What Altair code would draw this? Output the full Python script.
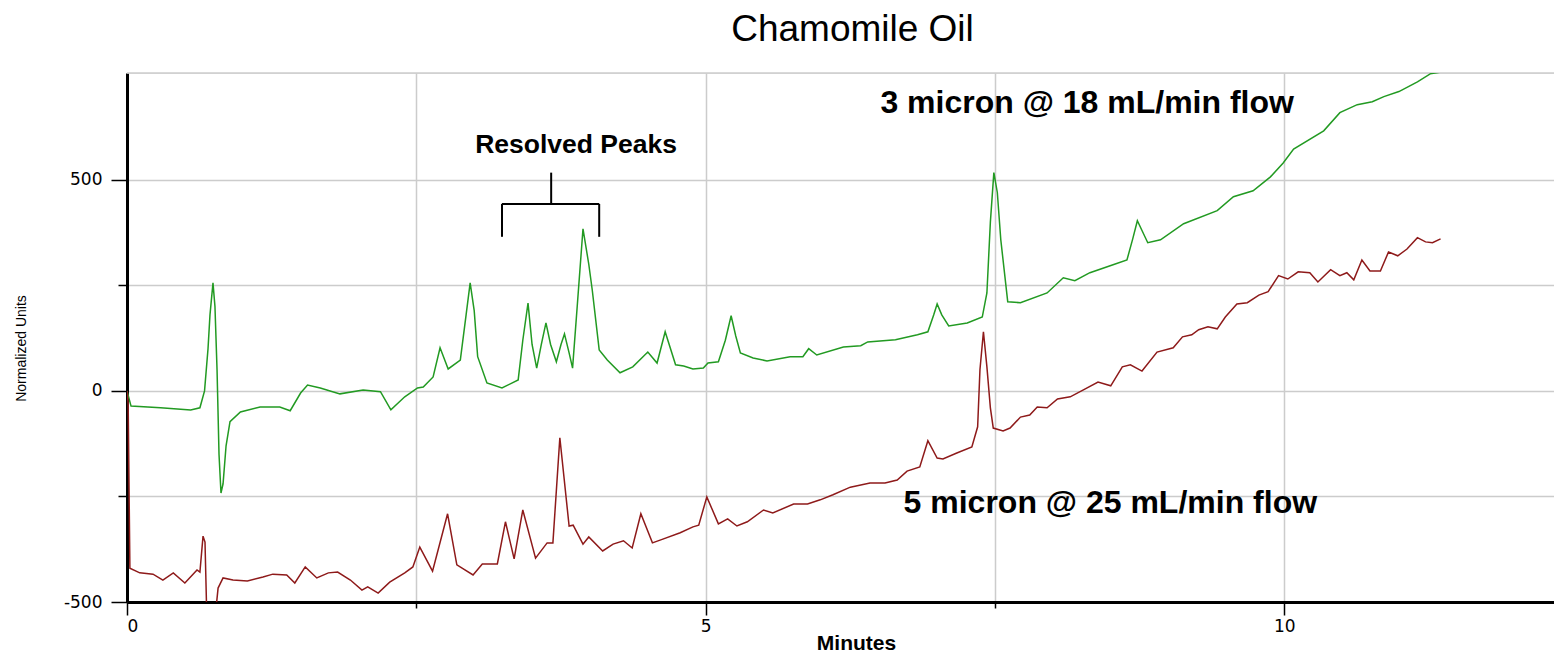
import altair as alt
import pandas as pd

# ---- data (minutes, normalized units) ----
green_t = [0.00, 0.035, 0.29, 0.55, 0.63, 0.67, 0.70, 0.717, 0.743, 0.76, 0.778, 0.795, 0.812, 0.83, 0.856, 0.89,
           0.98, 1.15, 1.32, 1.41, 1.50, 1.56, 1.67, 1.84, 2.04, 2.19, 2.28, 2.40, 2.51, 2.56, 2.645, 2.705,
           2.775, 2.88, 2.93, 2.965, 3.00, 3.03, 3.11, 3.24, 3.38, 3.42, 3.465, 3.50, 3.54, 3.58, 3.62, 3.66,
           3.71, 3.75, 3.78, 3.82, 3.85, 3.89, 3.94, 3.99, 4.02, 4.08, 4.15, 4.26, 4.37, 4.50, 4.58, 4.65,
           4.74, 4.81, 4.89, 4.98, 5.02, 5.11, 5.17, 5.22, 5.26, 5.30, 5.41, 5.53, 5.73, 5.84, 5.89, 5.96,
           6.19, 6.34, 6.40, 6.64, 6.83, 6.92, 6.97, 7.00, 7.04, 7.10, 7.26, 7.39, 7.43, 7.46, 7.49, 7.52,
           7.55, 7.61, 7.72, 7.95, 8.09, 8.19, 8.32, 8.52, 8.64, 8.69, 8.73, 8.77, 8.82, 8.93, 9.13, 9.42,
           9.56, 9.73, 9.88, 9.99, 10.08, 10.34, 10.48, 10.63, 10.76, 10.86, 10.99, 11.15, 11.26, 11.35]
green_v = [0, -36, -40, -45, -40, 0, 100, 180, 256, 200, 50, -150, -242, -220, -130, -73,
           -50, -38, -38, -47, -5, 14, 7, -7, 2, -2, -45, -14, 7, 9, 33, 102,
           52, 73, 180, 256, 190, 81, 19, 7, 26, 120, 208, 110, 54, 110, 161, 110,
           69, 110, 135, 90, 54, 200, 384, 300, 239, 97, 73, 43, 57, 92, 66, 140,
           62, 59, 52, 54, 66, 69, 120, 178, 130, 90, 78, 71, 81, 81, 100, 85,
           104, 107, 116, 121, 133, 140, 180, 206, 180, 154, 161, 175, 232, 400, 517, 470,
           358, 211, 209, 232, 268, 261, 280, 299, 310, 360, 403, 380, 351, 358, 396, 427,
           460, 474, 507, 540, 573, 616, 659, 678, 685, 697, 709, 732, 751, 755]

red_t = [0.00, 0.01, 0.025, 0.11, 0.225, 0.31, 0.40, 0.50, 0.605, 0.63, 0.657, 0.674, 0.69, 0.76, 0.787, 0.83,
         0.916, 1.04, 1.175, 1.26, 1.38, 1.45, 1.54, 1.64, 1.74, 1.82, 1.93, 2.03, 2.08, 2.17, 2.27, 2.40,
         2.47, 2.53, 2.64, 2.77, 2.85, 2.99, 3.07, 3.20, 3.27, 3.345, 3.42, 3.53, 3.63, 3.68, 3.74, 3.82,
         3.855, 3.94, 3.99, 4.11, 4.20, 4.29, 4.365, 4.44, 4.54, 4.63, 4.78, 4.89, 4.94, 5.01, 5.11, 5.19,
         5.27, 5.36, 5.50, 5.58, 5.76, 5.88, 5.99, 6.10, 6.25, 6.42, 6.55, 6.655, 6.74, 6.85, 6.92, 7.00,
         7.05, 7.17, 7.30, 7.35, 7.37, 7.40, 7.43, 7.46, 7.485, 7.57, 7.63, 7.72, 7.80, 7.865, 7.95, 8.04,
         8.15, 8.28, 8.39, 8.50, 8.60, 8.67, 8.77, 8.90, 9.04, 9.12, 9.20, 9.26, 9.34, 9.42, 9.49, 9.59,
         9.68, 9.78, 9.86, 9.95, 10.03, 10.12, 10.22, 10.29, 10.40, 10.48, 10.54, 10.60, 10.67, 10.74, 10.83, 10.90,
         10.98, 11.06, 11.15, 11.22, 11.28, 11.35]
red_v = [0, -30, -420, -431, -434, -448, -431, -455, -424, -429, -344, -358, -540, -540, -467, -443,
         -448, -450, -441, -434, -436, -455, -417, -443, -431, -429, -448, -472, -464, -479, -453, -431,
         -417, -370, -427, -291, -412, -436, -410, -410, -310, -398, -282, -396, -360, -360, -111, -320,
         -318, -363, -346, -379, -363, -355, -372, -291, -360, -351, -336, -322, -318, -251, -315, -303,
         -320, -310, -282, -289, -268, -268, -258, -246, -228, -218, -218, -211, -190, -180, -118, -159,
         -161, -147, -133, -85, 50, 140, 57, -40, -88, -95, -88, -62, -57, -38, -40, -19,
         -14, 5, 21, 12, 57, 62, 47, 92, 102, 128, 133, 145, 152, 147, 175, 206,
         209, 227, 235, 273, 265, 282, 280, 258, 287, 273, 280, 263, 310, 284, 284, 329,
         320, 336, 363, 353, 351, 360]

assert len(green_t) == len(green_v)
assert len(red_t) == len(red_v)

series_names = ["3 micron @ 18 mL/min flow", "5 micron @ 25 mL/min flow"]
series_colors = ["#229a22", "#8e1a1a"]

label_text = ["3 micron @ 18 mL/min flow", "5 micron @ 25 mL/min flow"]
label_x = [6.51, 6.71]
label_y = [682, -265]

peaks_text = ["Resolved Peaks"]
peaks_x = [3.88]
peaks_y = [583]

bracket_x = [3.24, 4.08, 3.24, 3.665]
bracket_x2 = [3.24, 4.08, 4.08, 3.665]
bracket_y = [365, 365, 443, 443]
bracket_y2 = [443, 443, 443, 517]

X_MAX = 12.33
Y_MIN, Y_MAX = -500, 753

df = pd.concat([
    pd.DataFrame({"t": green_t, "v": green_v, "s": series_names[0], "o": range(len(green_t))}),
    pd.DataFrame({"t": red_t, "v": red_v, "s": series_names[1], "o": range(len(red_t))}),
])

FONT = "Liberation Sans"

xscale = alt.Scale(domain=[0, X_MAX], nice=False, zero=False)
yscale = alt.Scale(domain=[Y_MIN, Y_MAX], nice=False, zero=False)

xaxis = alt.Axis(
    values=[0, 2.5, 5, 7.5, 10],
    labelExpr="datum.value % 5 === 0 ? toString(datum.value) : ''",
    domainColor="black", domainWidth=3,
    tickColor="black", tickWidth=1.5,
    tickSize={"condition": {"test": "datum.value % 5 === 0", "value": 13}, "value": 6},
    labelFont="DejaVu Sans", labelFontSize=17, labelColor="black", labelPadding=3,
    gridColor="#cccccc", gridWidth=1.5,
    title="Minutes", titleFont=FONT, titleFontSize=21, titleFontWeight="bold", titleColor="black",
    titleX=729, titleY=47, titleBaseline="alphabetic", titleAlign="center",
)
yaxis = alt.Axis(
    values=[-500, -250, 0, 250, 500],
    labelExpr="datum.value % 500 === 0 ? toString(datum.value) : ''",
    domainColor="black", domainWidth=3,
    tickColor="black", tickWidth=1.5,
    tickSize={"condition": {"test": "datum.value % 500 === 0", "value": 16}, "value": 9},
    labelFont="DejaVu Sans", labelFontSize=17, labelColor="black", labelPadding=9,
    gridColor="#cccccc", gridWidth=1.5,
    title="Normalized Units", titleFont=FONT, titleFontSize=14, titleFontWeight="normal", titleColor="black",
    titleX=-106, titleY=275, titleAngle=270, titleBaseline="middle", titleAlign="center",
)

lines = alt.Chart(df).mark_line(strokeWidth=1.5, clip=True, interpolate="linear").encode(
    x=alt.X("t:Q", scale=xscale, axis=xaxis),
    y=alt.Y("v:Q", scale=yscale, axis=yaxis),
    color=alt.Color("s:N", scale=alt.Scale(domain=series_names, range=series_colors), legend=None),
    detail="s:N",
    order="o:Q",
)

top_rule = alt.Chart(pd.DataFrame({"y": [Y_MAX]})).mark_rule(color="#cccccc", strokeWidth=1.5).encode(
    y=alt.Y("y:Q", scale=yscale)
)

bracket = alt.Chart(pd.DataFrame({"x": bracket_x, "x2": bracket_x2, "y": bracket_y, "y2": bracket_y2})).mark_rule(
    color="black", strokeWidth=2
).encode(
    x=alt.X("x:Q", scale=xscale), x2="x2:Q",
    y=alt.Y("y:Q", scale=yscale), y2="y2:Q",
)

labels = alt.Chart(pd.DataFrame({"x": label_x, "y": label_y, "text": label_text})).mark_text(
    font=FONT, fontSize=32, fontWeight="bold", align="left", baseline="middle", color="black"
).encode(x=alt.X("x:Q", scale=xscale), y=alt.Y("y:Q", scale=yscale), text="text:N")

peaks = alt.Chart(pd.DataFrame({"x": peaks_x, "y": peaks_y, "text": peaks_text})).mark_text(
    font=FONT, fontSize=26.5, fontWeight="bold", align="center", baseline="middle", color="black"
).encode(x=alt.X("x:Q", scale=xscale), y=alt.Y("y:Q", scale=yscale), text="text:N")

chart = alt.layer(top_rule, lines, bracket, labels, peaks).properties(
    width=1427,
    height=529,
    autosize=alt.AutoSizeParams(type="none"),
    padding={"left": 119, "top": 65, "right": 0, "bottom": 51},
    title=alt.TitleParams("Chamomile Oil", font=FONT, fontSize=37, fontWeight="normal", color="black",
                          anchor="middle", dx=12, offset=23),
).configure_view(stroke="transparent").configure(background="white")

chart.save("out.html", embed_options={"renderer": "svg", "actions": False})
